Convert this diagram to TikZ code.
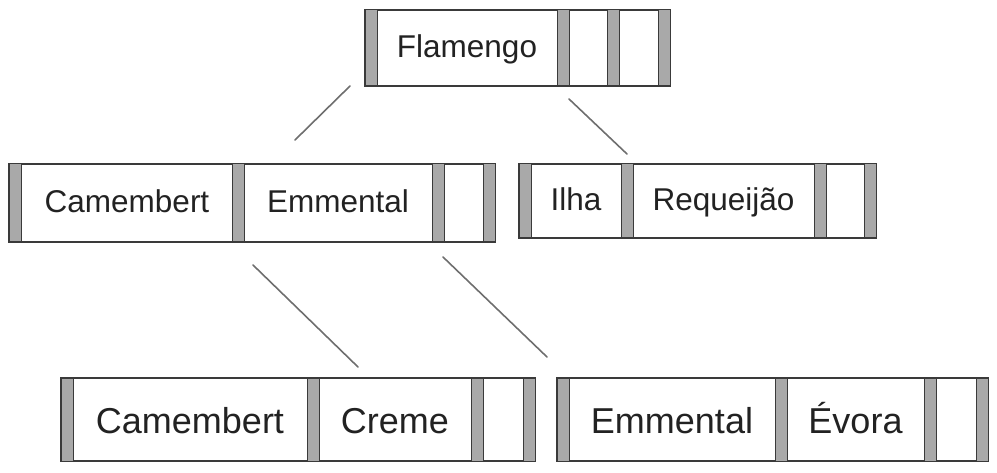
\documentclass[tikz,border=0pt]{standalone}
\usepackage{fontspec}
\setmainfont{Liberation Sans}
\definecolor{lineg}{HTML}{3A3A3A}
\definecolor{barg}{HTML}{A9A9A9}
\definecolor{connc}{HTML}{6E6E6E}
\definecolor{txtc}{HTML}{222222}
\begin{document}
\begin{tikzpicture}[x=1pt,y=-1pt,
  recbox/.style={draw=lineg,line width=1.3pt,fill=white,rectangle,anchor=north west,inner sep=0pt,outer sep=0pt},
  barbox/.style={fill=barg,draw=lineg,line width=1pt},
  conn/.style={draw=connc,line width=1.6pt,line cap=round},
  lbl/.style={text=txtc,inner sep=0pt,anchor=base,font=\fontsize{31.5}{36}\selectfont},
  lblbig/.style={text=txtc,inner sep=0pt,anchor=base,font=\fontsize{36}{42}\selectfont}]
\useasboundingbox (0,0) rectangle (997,473);
\newcommand\recdraw[6]{%
  \node[recbox,minimum width=#4-#2,minimum height=#5-#3] (#1) at (#2,#3) {};
  \foreach \bx in {#6} {\filldraw[barbox] (\bx,#3) rectangle (\bx+12,#5);}
}
% top record
\recdraw{top}{365}{10}{670}{86}{365,557,607,658}
\node[lbl] (flamengo) at (467,58) {Flamengo};
% middle left
\recdraw{midl}{9}{164}{495}{242}{9,232,432,483}
\node[lbl] (camA) at (127,213) {Camembert};
\node[lbl] (emmA) at (338,213) {Emmental};
% middle right
\recdraw{midr}{519}{164}{876}{238}{519,621,814,864}
\node[lbl] (ilha) at (576,211) {Ilha};
\node[lbl] (requeijao) at (723.5,211) {Requeijão};
% bottom left
\recdraw{botl}{61}{378}{535}{461}{61,307,471,523}
\node[lblbig] (camB) at (190,433) {Camembert};
\node[lblbig] (creme) at (395,433) {Creme};
% bottom right
\recdraw{botr}{557}{378}{988}{461}{557,775,924,976}
\node[lblbig] (emmB) at (672,433) {Emmental};
\node[lblbig] (evora) at (855.5,433) {Évora};
% connectors
\coordinate (c1a) at (350,86);
\coordinate (c1b) at (295,140);
\coordinate (c2a) at (569,99);
\coordinate (c2b) at (627,154);
\coordinate (c3a) at (253,265);
\coordinate (c3b) at (358,367);
\coordinate (c4a) at (443,257);
\coordinate (c4b) at (547,357);
\draw[conn] (c1a) -- (c1b);
\draw[conn] (c2a) -- (c2b);
\draw[conn] (c3a) -- (c3b);
\draw[conn] (c4a) -- (c4b);
\end{tikzpicture}
\end{document}
